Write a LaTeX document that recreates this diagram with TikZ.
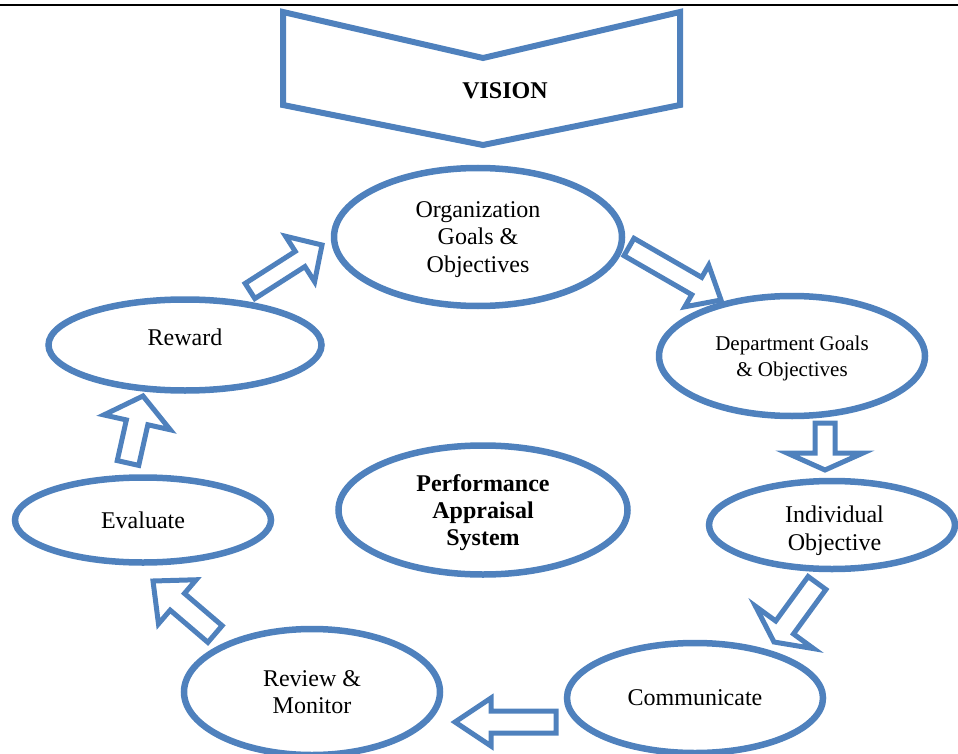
\documentclass[tikz,border=0pt]{standalone}
\usepackage{fontspec}
\setmainfont{Liberation Serif}
\usetikzlibrary{shapes.geometric,calc}
\definecolor{appblue}{RGB}{79,129,189}
% block arrow from tail #1 to tip #2: shaft half width #3, head half width #4, head length #5
\newcommand\blockarrow[5]{%
  \coordinate (ba-base) at ($(#2)!#5!(#1)$);
  \draw[blockarr] ($(#1)!#3!90:(#2)$) -- ($(ba-base)!#3!90:(#2)$)
    -- ($(ba-base)!#4!90:(#2)$) -- (#2) -- ($(ba-base)!#4!-90:(#2)$)
    -- ($(ba-base)!#3!-90:(#2)$) -- ($(#1)!#3!-90:(#2)$) -- cycle;}
\begin{document}
\begin{tikzpicture}[x=1pt,y=-1pt,
  goal/.style={ellipse, draw=appblue, line width=6.5pt, inner sep=0pt, align=center,
    text depth=0pt, font=\fontsize{24}{27.5}\selectfont},
  blockarr/.style={draw=appblue, line width=5pt, line join=miter}]
\clip (0,0) rectangle (958,754);
\draw[line width=2pt] (0,5) -- (958,5);
% vision chevron
\draw[appblue, line width=6pt, line join=miter] (283,12) -- (483,58) -- (680,12)
  -- (680,105) -- (483,145) -- (283,105) -- cycle;
\node[font=\fontsize{24}{28}\selectfont\bfseries] (vision) at (505,91) {VISION};
% cycle
\node[goal, minimum width=288, minimum height=138] (org) at (478,237) {Organization\\Goals \&\\Objectives};
\node[goal, minimum width=266, minimum height=120, font=\fontsize{21}{26}\selectfont] (dept) at (792,356) {Department Goals\\\& Objectives};
\node[goal, minimum width=246, minimum height=88] (indiv) at (832,525) {\rule{0pt}{22.5pt}\hspace*{5pt}Individual\\\hspace*{5pt}Objective};
\node[goal, minimum width=256, minimum height=110, text depth=] (comm) at (695,698) {Communicate};
\node[goal, minimum width=256, minimum height=126] (review) at (312,692) {Review \&\\Monitor};
\node[goal, minimum width=256, minimum height=85, text depth=] (eval) at (143,520) {Evaluate};
\node[goal, minimum width=273, minimum height=91] (reward) at (185,345) {\smash{Reward}};
\node[goal, minimum width=289, minimum height=129, font=\fontsize{24}{27}\selectfont\bfseries] (pas) at (483,510) {Performance\\Appraisal\\System};
% arrow ends
\coordinate (a1s) at (250,291); \coordinate (a1e) at (322,245);
\coordinate (a2s) at (629,247); \coordinate (a2e) at (721,300);
\coordinate (a3s) at (825,423); \coordinate (a3e) at (825,470);
\coordinate (a4s) at (817,583); \coordinate (a4e) at (774,642);
\coordinate (a5s) at (556,722); \coordinate (a5e) at (455,722);
\coordinate (a6s) at (215,634); \coordinate (a6e) at (153,581);
\coordinate (a7s) at (128,463); \coordinate (a7e) at (143,396);
\blockarrow{a1s}{a1e}{9pt}{27pt}{26pt}
\blockarrow{a2s}{a2e}{10pt}{24pt}{28pt}
\blockarrow{a3s}{a3e}{10pt}{38pt}{17pt}
\blockarrow{a4s}{a4e}{11pt}{36pt}{18pt}
\blockarrow{a5s}{a5e}{11pt}{24pt}{36pt}
\blockarrow{a6s}{a6e}{11pt}{29pt}{32pt}
\blockarrow{a7s}{a7e}{11pt}{34pt}{27pt}
\end{tikzpicture}
\end{document}
